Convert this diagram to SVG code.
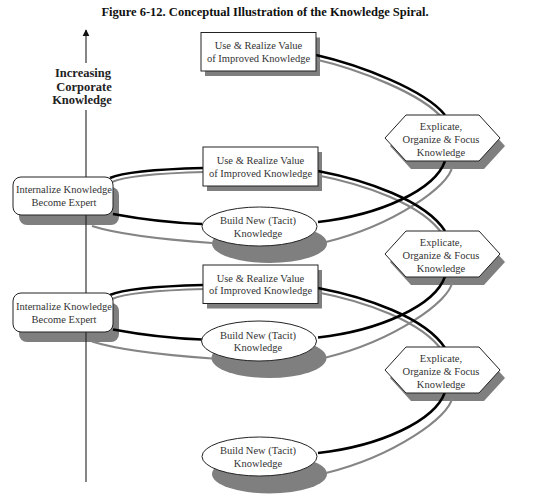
<svg xmlns="http://www.w3.org/2000/svg" width="540" height="502" viewBox="0 0 540 502">
<style>
.title{font-family:"Liberation Serif","Times New Roman",serif;font-weight:bold;font-size:12.5px;fill:#111;text-anchor:middle}
.lbl{font-family:"Liberation Serif","Times New Roman",serif;font-weight:bold;font-size:12.5px;fill:#222;text-anchor:middle}
.t{font-family:"Liberation Serif","Times New Roman",serif;font-size:10.5px;fill:#333;text-anchor:middle}
.sh{fill:#7f7f7f;stroke:none}
.node{fill:#fff;stroke:#222;stroke-width:1}
.blk{fill:none;stroke:#000;stroke-width:2.5}
.gry{fill:none;stroke:#858585;stroke-width:2.2}
.axis{stroke:#222;stroke-width:1.1;fill:none}
</style>
<defs>
<marker id="ah" viewBox="0 0 10 10" refX="9" refY="5" markerWidth="7" markerHeight="8" markerUnits="userSpaceOnUse" orient="auto"><path d="M0,0 L10,5 L0,10 z" fill="#111"/></marker>
</defs>
<rect width="540" height="502" fill="#fff"/>
<text class="title" x="265" y="16">Figure 6-12. Conceptual Illustration of the Knowledge Spiral.</text>
<g id="axis-label">
<text class="lbl" x="83" y="77">Increasing</text>
<text class="lbl" x="84" y="90.5">Corporate</text>
<text class="lbl" x="82" y="104">Knowledge</text>
</g>
<g id="shadows">
<rect class="sh" x="205" y="37.5" width="115" height="38.5"/>
<rect class="sh" x="207" y="152" width="115" height="39"/>
<rect class="sh" x="207" y="270" width="115" height="38.5"/>
<rect class="sh" x="19" y="187" width="100" height="38" rx="8"/>
<rect class="sh" x="19" y="303" width="100" height="39" rx="8"/>
<polygon class="sh" points="390,146 411,123 484,123 505,146 484,169 411,169"/>
<polygon class="sh" points="390,262 411,239 484,239 505,262 484,285 411,285"/>
<polygon class="sh" points="390,378 411,355 484,355 505,378 484,401 411,401"/>
<ellipse class="sh" cx="269.5" cy="243.5" rx="57.5" ry="19.5"/>
<ellipse class="sh" cx="269" cy="358" rx="57.5" ry="20"/>
<ellipse class="sh" cx="269.5" cy="474" rx="57.5" ry="19.5"/>
</g>
<g id="connectors">
<path class="gry" d="M314,59 C358,69 423,94 443,119"/>
<path class="gry" d="M452,167 C450,185 395,225 326,242"/>
<path class="gry" d="M92,226 C120,235 170,240 212,243"/>
<path class="gry" d="M112,182 C127,175 167,173 205,172"/>
<path class="gry" d="M316,175 C363,184 423,204 443,235"/>
<path class="gry" d="M452,282.5 C450,300.5 395,340.5 326,357.5"/>
<path class="gry" d="M92,341.5 C120,350.5 170,355.5 212,358.5"/>
<path class="gry" d="M112,299 C127,292 167,290 205,289"/>
<path class="gry" d="M316,292 C363,301 423,321 443,352"/>
<path class="gry" d="M452,398 C450,416 395,456 326,473"/>
<path class="blk" d="M316,55 C360,65 425,90 445,115"/>
<path class="blk" d="M445,161 C435,190 380,215 318,222"/>
<path class="blk" d="M113,214 C140,219 175,223 202,224"/>
<path class="blk" d="M110,178 C125,171 165,169 203,168"/>
<path class="blk" d="M318,171 C365,180 425,200 445,231"/>
<path class="blk" d="M445,276.5 C435,305.5 380,330.5 318,337.5"/>
<path class="blk" d="M113,329.5 C140,334.5 175,338.5 202,339.5"/>
<path class="blk" d="M110,295 C125,288 165,286 203,285"/>
<path class="blk" d="M318,288 C365,297 425,317 445,348"/>
<path class="blk" d="M445,392 C435,421 380,446 318,453"/>
</g>
<g id="axis">
<line class="axis" x1="86" y1="63" x2="86" y2="30" marker-end="url(#ah)"/>
<line class="axis" x1="86" y1="110" x2="86" y2="482"/>
</g>
<g id="use1">
<rect class="node" x="201" y="32.5" width="115" height="38.5"/>
<text class="t" x="258.5" y="49.3">Use &amp; Realize Value</text>
<text class="t" x="258.5" y="61.8">of Improved Knowledge</text>
</g>
<g id="explicate1">
<polygon class="node" points="385,138 406,115 479,115 500,138 479,161 406,161"/>
<text class="t" x="441" y="129.5">Explicate,</text>
<text class="t" x="441" y="142.5">Organize &amp; Focus</text>
<text class="t" x="441" y="155.5">Knowledge</text>
</g>
<g id="build1">
<ellipse class="node" cx="259.5" cy="226.5" rx="57.5" ry="19.5"/>
<text class="t" x="258" y="224">Build New (Tacit)</text>
<text class="t" x="258" y="236.5">Knowledge</text>
</g>
<g id="internalize1">
<rect class="node" x="13" y="177" width="100" height="38" rx="8"/>
<text class="t" x="64" y="193.2">Internalize Knowledge</text>
<text class="t" x="64" y="206.2">Become Expert</text>
</g>
<g id="use2">
<rect class="node" x="203" y="147" width="115" height="39"/>
<text class="t" x="260.5" y="164">Use &amp; Realize Value</text>
<text class="t" x="260.5" y="176.5">of Improved Knowledge</text>
</g>
<g id="explicate2">
<polygon class="node" points="385,254 406,231 479,231 500,254 479,277 406,277"/>
<text class="t" x="441" y="245.5">Explicate,</text>
<text class="t" x="441" y="258.5">Organize &amp; Focus</text>
<text class="t" x="441" y="271.5">Knowledge</text>
</g>
<g id="build2">
<ellipse class="node" cx="259" cy="341" rx="57.5" ry="20"/>
<text class="t" x="258" y="338.5">Build New (Tacit)</text>
<text class="t" x="258" y="351">Knowledge</text>
</g>
<g id="internalize2">
<rect class="node" x="13" y="293" width="100" height="39" rx="8"/>
<text class="t" x="64" y="309.7">Internalize Knowledge</text>
<text class="t" x="64" y="322.7">Become Expert</text>
</g>
<g id="use3">
<rect class="node" x="203" y="265" width="115" height="38.5"/>
<text class="t" x="260.5" y="281.8">Use &amp; Realize Value</text>
<text class="t" x="260.5" y="294.3">of Improved Knowledge</text>
</g>
<g id="explicate3">
<polygon class="node" points="385,370 406,347 479,347 500,370 479,393 406,393"/>
<text class="t" x="441" y="361.5">Explicate,</text>
<text class="t" x="441" y="374.5">Organize &amp; Focus</text>
<text class="t" x="441" y="387.5">Knowledge</text>
</g>
<g id="build3">
<ellipse class="node" cx="259.5" cy="456.5" rx="57.5" ry="19.5"/>
<text class="t" x="258" y="454">Build New (Tacit)</text>
<text class="t" x="258" y="466.5">Knowledge</text>
</g>
</svg>
